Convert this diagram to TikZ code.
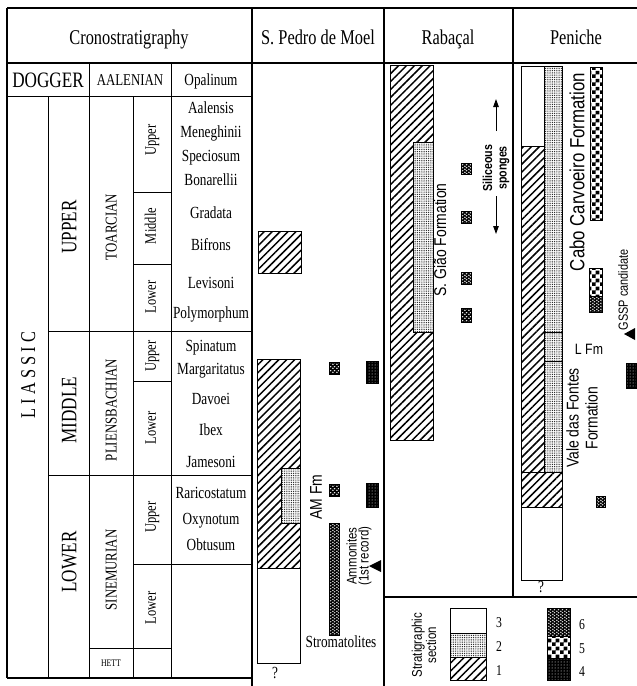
\documentclass[tikz,border=0pt]{standalone}
\usepackage{fontspec}
\setmainfont{Liberation Serif}
\newfontfamily\nserif[FakeStretch=0.78]{Liberation Serif}
\newfontfamily\nsans[FakeStretch=0.82]{Liberation Sans}
\usetikzlibrary{patterns,patterns.meta,arrows.meta}

\pgfdeclarepatternformonly{bigcheck}{\pgfqpoint{0pt}{0pt}}{\pgfqpoint{8pt}{8pt}}{\pgfqpoint{8pt}{8pt}}{%
  \pgfpathrectangle{\pgfqpoint{0pt}{0pt}}{\pgfqpoint{4pt}{4pt}}%
  \pgfpathrectangle{\pgfqpoint{4pt}{4pt}}{\pgfqpoint{4pt}{4pt}}%
  \pgfusepath{fill}}
\pgfdeclarepatternformonly{scales}{\pgfqpoint{0pt}{0pt}}{\pgfqpoint{4pt}{3.4pt}}{\pgfqpoint{4pt}{3.4pt}}{%
  \pgfpathellipse{\pgfqpoint{1pt}{0.85pt}}{\pgfqpoint{1.05pt}{0pt}}{\pgfqpoint{0pt}{0.7pt}}%
  \pgfpathellipse{\pgfqpoint{3pt}{2.55pt}}{\pgfqpoint{1.05pt}{0pt}}{\pgfqpoint{0pt}{0.7pt}}%
  \pgfusepath{fill}}

\tikzset{
  tblframe/.style={line width=1.2pt},
  tblrule/.style={line width=0.9pt},
  bx/.style={draw, line width=0.8pt},
  hatch/.style={bx, pattern={Lines[angle=45,distance=5.6pt,line width=1.5pt]}},
  stip/.style={bx, preaction={fill=white}, pattern={Dots[distance=1.8pt,radius=0.5pt]}},
  blank/.style={bx, fill=white},
  symfour/.style={bx, line width=0.6pt, preaction={fill=black}, pattern color=white, pattern={Dots[distance=3pt,radius=0.5pt]}},
  symfive/.style={bx, line width=0.6pt, preaction={fill=white}, pattern color=black, pattern=bigcheck},
  symsix/.style={bx, line width=0.6pt, preaction={fill=black}, pattern color=white, pattern=scales},
  trimark/.style={fill=black},
  zone/.style={font=\nserif\fontsize{17}{18}\selectfont, text height=11.5pt, text depth=3.5pt},
  hdr/.style={font=\nserif\fontsize{21}{22}\selectfont, text height=14pt, text depth=4.5pt},
  dog/.style={font=\nserif\fontsize{22}{23}\selectfont, text height=15pt, text depth=0pt},
  stg/.style={font=\nserif\fontsize{16.5}{18}\selectfont, text height=11pt, text depth=0pt},
  stgv/.style={stg, rotate=90},
  ser/.style={font=\nserif\fontsize{22}{24}\selectfont, rotate=90, text height=14.5pt, text depth=0pt},
  lias/.style={font=\nserif\fontsize{21}{24}\selectfont, rotate=90, text height=14pt, text depth=0pt},
  sub/.style={font=\nserif\fontsize{16}{17}\selectfont, rotate=90, text height=11pt, text depth=3.5pt},
  hett/.style={font=\nserif\fontsize{10}{11}\selectfont, text height=7pt, text depth=0pt},
  num/.style={font=\nserif\fontsize{15}{16}\selectfont, text height=10pt, text depth=0pt},
  fmbig/.style={font=\nsans\fontsize{20.5}{22}\selectfont, rotate=90},
  fmmid/.style={font=\nsans\fontsize{17}{19}\selectfont, rotate=90, align=center},
  fmsg/.style={font=\nsans\fontsize{17}{19}\selectfont, rotate=90},
  smallv/.style={font=\nsans\fontsize{14}{12}\selectfont, rotate=90, align=center},
  arr/.style={line width=1pt, -{Triangle[length=8pt,width=5.5pt]}},
}

\begin{document}
\begin{tikzpicture}[x=1pt,y=-1pt, every node/.style={inner sep=0pt, outer sep=0pt}]
\useasboundingbox (0,0) rectangle (637,686);

% ---------- frame ----------
\draw[tblframe] (7,8) -- (637,8);
\draw[tblframe] (7,63) -- (637,63);
\draw[tblframe] (7,8) -- (7,678);
\draw[tblframe] (7,678) -- (252,678);
\draw[tblframe] (252,8) -- (252,686);
\draw[tblframe] (384,8) -- (384,686);
\draw[tblframe] (513,8) -- (513,597);
\draw[tblframe] (384,597) -- (637,597);

% ---------- chronostratigraphic table ----------
\draw[tblrule] (7,96) -- (252,96);
\draw[tblrule] (48,96) -- (48,678);
\draw[tblrule] (89,63) -- (89,678);
\draw[tblrule] (133,96) -- (133,678);
\draw[tblrule] (171,63) -- (171,678);
\draw[tblrule] (48,331) -- (252,331);
\draw[tblrule] (48,475) -- (252,475);
\draw[tblrule] (133,192) -- (171,192);
\draw[tblrule] (133,264) -- (171,264);
\draw[tblrule] (133,381) -- (171,381);
\draw[tblrule] (133,564) -- (252,564);
\draw[tblrule] (89,648) -- (171,648);

% headers
\node[hdr] (tcron) at (129,40) {Cronostratigraphy};
\node[hdr] (tpedro) at (318,40) {S. Pedro de Moel};
\node[hdr] (trab) at (448,40) {Rabaçal};
\node[hdr] (tpen) at (576,40) {Peniche};

\node[dog] (tdog) at (48,80) {DOGGER};
\node[stg] (taal) at (130,80) {AALENIAN};
\node[zone] (zop) at (211,81) {Opalinum};

\node[lias] (tlias) at (28,375) {L I A S S I C};
\node[ser] (supper) at (69,227) {UPPER};
\node[ser] (smiddle) at (69,410) {MIDDLE};
\node[ser] (slower) at (69,562) {LOWER};

\node[stgv] (ttoa) at (111,227) {TOARCIAN};
\node[stgv] (tpli) at (111,410) {PLIENSBACHIAN};
\node[stgv] (tsin) at (111,570) {SINEMURIAN};
\node[hett] (thet) at (111,663) {HETT};

\node[sub] (u1) at (152,140) {Upper};
\node[sub] (m1) at (152,226) {Middle};
\node[sub] (l1) at (152,297) {Lower};
\node[sub] (u2) at (152,356) {Upper};
\node[sub] (l2) at (152,428) {Lower};
\node[sub] (u3) at (152,517) {Upper};
\node[sub] (l3) at (152,608) {Lower};

\node[zone] (z1) at (211,109) {Aalensis};
\node[zone] (z2) at (211,133) {Meneghinii};
\node[zone] (z3) at (211,157) {Speciosum};
\node[zone] (z4) at (211,181) {Bonarellii};
\node[zone] (z5) at (211,214) {Gradata};
\node[zone] (z6) at (211,246) {Bifrons};
\node[zone] (z7) at (211,284) {Levisoni};
\node[zone] (z8) at (211,314) {Polymorphum};
\node[zone] (z9) at (211,347) {Spinatum};
\node[zone] (z10) at (211,370) {Margaritatus};
\node[zone] (z11) at (211,400) {Davoei};
\node[zone] (z12) at (211,431) {Ibex};
\node[zone] (z13) at (211,463) {Jamesoni};
\node[zone] (z14) at (211,494) {Raricostatum};
\node[zone] (z15) at (211,520) {Oxynotum};
\node[zone] (z16) at (211,546) {Obtusum};

% ---------- S. Pedro de Moel ----------
\draw[hatch] (258,231) rectangle (301,273);
\draw[hatch] (257,359) rectangle (300,568);
\draw[stip] (281,468) rectangle (300,523);
\draw[blank] (257,568) rectangle (300,663);
\node[zone] (qpedro) at (275,674) {?};
\draw[symsix] (329,362) rectangle (339,374);
\draw[symsix] (329,484) rectangle (339,496);
\draw[symsix] (329,523) rectangle (339,635);
\draw[symfour] (366,361) rectangle (378,383);
\draw[symfour] (366,483) rectangle (378,507);
\fill[trimark] (369,566) -- (381,560) -- (381,572) -- cycle;
\node[fmmid] (amfm) at (316,497) {AM Fm};
\node[smallv] (amm) at (359,556) {Ammonites\\(1st record)};
\node[zone] (strom) at (341,643) {Stromatolites};

% ---------- Rabacal ----------
\draw[hatch] (390,65) rectangle (433,440);
\draw[stip] (413,142) rectangle (433,332);
\draw[symsix] (461,163) rectangle (471,174);
\draw[symsix] (461,211) rectangle (471,223);
\draw[symsix] (461,272) rectangle (471,284);
\draw[symsix] (461,308) rectangle (471,322);
\node[fmsg] (sgiao) at (440,240) {S. Gião Formation};
\node[smallv, font=\nsans\bfseries\fontsize{13}{14.5}\selectfont] (spg) at (496,168) {Siliceous\\sponges};
\coordinate (spgtop) at (496,99);
\coordinate (spgbot) at (496,234);
\coordinate (spgup) at (496,131);
\coordinate (spgdn) at (496,196);
\draw[arr] (spgup) -- (spgtop);
\draw[arr] (spgdn) -- (spgbot);

% ---------- Peniche ----------
\draw[blank] (521,66) rectangle (544,146);
\draw[hatch] (521,146) rectangle (544,472);
\draw[stip] (544,66) rectangle (562,332);
\draw[stip] (544,332) rectangle (562,361);
\draw[stip] (544,361) rectangle (562,472);
\draw[hatch] (521,472) rectangle (562,507);
\draw[blank] (521,507) rectangle (562,580);
\node[zone] (qpen) at (541,588) {?};
\draw[symfive] (590,67) rectangle (602,220);
\draw[symfive] (589,268) rectangle (602,296);
\draw[symsix] (589,296) rectangle (602,312);
\draw[symfour] (626,363) rectangle (636,388);
\draw[symsix] (596,496) rectangle (605,507);
\node[fmbig] (cabo) at (577,172) {Cabo Carvoeiro Formation};
\node[font=\nsans\fontsize{15}{16}\selectfont] (lfm) at (589,349) {L Fm};
\node[fmmid] (vale) at (582,418) {Vale das Fontes\\Formation};
\node[smallv, font=\nsans\fontsize{13.3}{12}\selectfont] (gssp) at (623,290) {GSSP candidate};
\fill[trimark] (624,334) -- (635,328) -- (635,340) -- cycle;

% ---------- legend ----------
\node[smallv, font=\nsans\fontsize{14}{13}\selectfont] (leg) at (424,645) {Stratigraphic\\section};
\draw[blank] (450,608) rectangle (486,633);
\draw[stip] (450,633) rectangle (486,657);
\draw[hatch] (450,657) rectangle (486,680);
\node[num] (n3) at (499,622) {3};
\node[num] (n2) at (499,646) {2};
\node[num] (n1) at (499,670) {1};
\draw[symsix] (547,608) rectangle (570,636);
\draw[symfive] (547,636) rectangle (570,658);
\draw[symfour] (547,658) rectangle (570,680);
\node[num] (n6) at (582,624) {6};
\node[num] (n5) at (582,648) {5};
\node[num] (n4) at (582,671) {4};
\end{tikzpicture}
\end{document}
